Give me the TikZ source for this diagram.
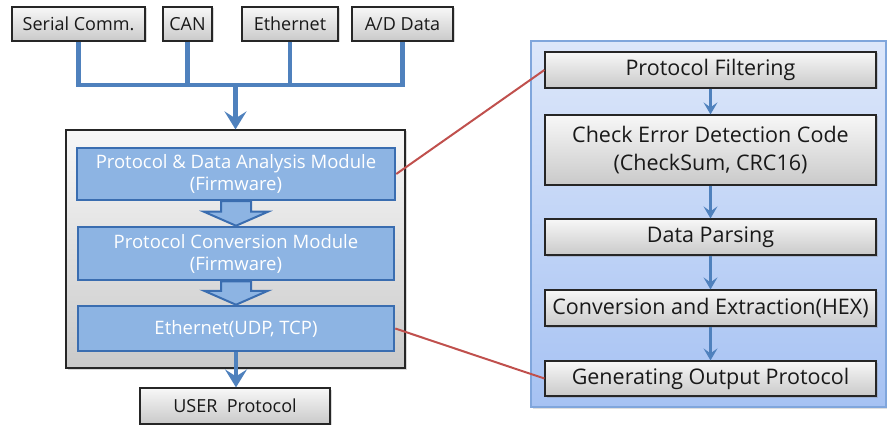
\documentclass[tikz,border=0pt]{standalone}
\usepackage{fontspec}
\setmainfont{Open Sans}
\usetikzlibrary{arrows.meta,shadows}

\definecolor{busblue}{HTML}{4F81BD}
\definecolor{modfill}{HTML}{8DB4E3}
\definecolor{modline}{HTML}{3A6DB0}
\definecolor{linkred}{HTML}{C0504D}
\definecolor{paneltop}{HTML}{DDE7FA}
\definecolor{panelbot}{HTML}{A6C2F3}
\definecolor{panelline}{HTML}{80A6DC}

\tikzset{
	graybox/.style={draw=black!85, line width=1.2pt, top color=gray!6, bottom color=gray!42,
		drop shadow={shadow xshift=1.5pt, shadow yshift=-1.5pt, opacity=0.3},
		inner sep=0pt, text=black!90, align=center},
	modbox/.style={draw=modline, line width=2.5pt, fill=modfill, text=white, align=center,
		inner sep=0pt, font=\fontsize{18.5}{22}\selectfont},
	blockarrow/.style={draw=modline, line width=2pt, fill=modfill, line join=miter},
	bus/.style={busblue, line width=4.5pt},
	busarrow/.style={bus, -{Stealth[length=18pt, width=22pt, inset=7pt]}},
	stepflow/.style={busblue, line width=2.5pt, -{Stealth[length=12pt, width=14pt, inset=5pt]}},
	link/.style={linkred, line width=2pt},
}

% wide hollow-looking arrow between two firmware modules
\newcommand{\blockarrow}[2]{%
	\draw[blockarrow] ([xshift=-15pt]#1.south) -- ([xshift=-15pt,yshift=14pt]#2.north)
		-- ([xshift=-32pt,yshift=14pt]#2.north) -- (#2.north)
		-- ([xshift=32pt,yshift=14pt]#2.north) -- ([xshift=15pt,yshift=14pt]#2.north)
		-- ([xshift=15pt]#1.south) -- cycle;}

\begin{document}
\begin{tikzpicture}[x=1pt,y=-1pt]
	\useasboundingbox (0,0) rectangle (887,425);

	% input sources
	\foreach \name/\x/\w/\txt in {serial/78.5/133/Serial Comm., can/187.5/49/CAN,
		eth/290/96/Ethernet, ad/402.5/101/{A/D Data}}
	{
		\node[graybox, minimum width=\w pt, minimum height=34pt, font=\fontsize{18}{21}\selectfont]
			(\name) at (\x,24) {\txt};
	}
	\coordinate (junction) at (235.5,85);
	\draw[bus] (serial.south) |- (junction) -| (ad.south);
	\draw[bus] (can.south) -- (can.south |- junction);
	\draw[bus] (eth.south) -- (eth.south |- junction);

	% gateway with its firmware modules
	\node[graybox, minimum width=339pt, minimum height=238pt] (gate) at (235.5,249) {};
	\draw[busarrow] (junction) -- (gate.north);
	\node[modbox, minimum width=318pt, minimum height=52pt] (pda) at (236,174)
		{Protocol \& Data Analysis Module\\(Firmware)};
	\node[modbox, minimum width=316pt, minimum height=53pt] (pcm) at (236,253.5)
		{Protocol Conversion Module\\(Firmware)};
	\node[modbox, minimum width=316pt, minimum height=45pt] (ethm) at (236,328.5)
		{Ethernet(UDP, TCP)};
	\blockarrow{pda}{pcm}
	\blockarrow{pcm}{ethm}

	\node[graybox, minimum width=190pt, minimum height=36pt, font=\fontsize{18}{21}\selectfont]
		(user) at (235,406) {USER\ \ Protocol};
	\draw[busarrow] (ethm.south) -- (ethm.south |- user.north);

	% processing steps
	\node[draw=panelline, line width=1.2pt, top color=paneltop, bottom color=panelbot,
		drop shadow={shadow xshift=1.5pt, shadow yshift=-1.5pt, opacity=0.25},
		minimum width=355pt, minimum height=366pt] (panel) at (708.5,224) {};
	\foreach \name/\y/\h/\txt in {filt/70/36/Protocol Filtering,
		crc/150/70/Check Error Detection Code\\(CheckSum{,} CRC16),
		parse/237/36/Data Parsing, conv/308/36/Conversion and Extraction(HEX),
		gen/378.5/35/Generating Output Protocol}
	{
		\node[graybox, minimum width=331pt, minimum height=\h pt, font=\fontsize{21.5}{28}\selectfont]
			(\name) at (710.5,\y) {\txt};
	}
	\foreach \a/\b in {filt/crc, crc/parse, parse/conv, conv/gen}
		\draw[stepflow] (\a.south) -- (\a.south |- \b.north);

	\draw[link] (pda.east) -- (filt.west);
	\draw[link] (ethm.east) -- (gen.west);
\end{tikzpicture}
\end{document}
